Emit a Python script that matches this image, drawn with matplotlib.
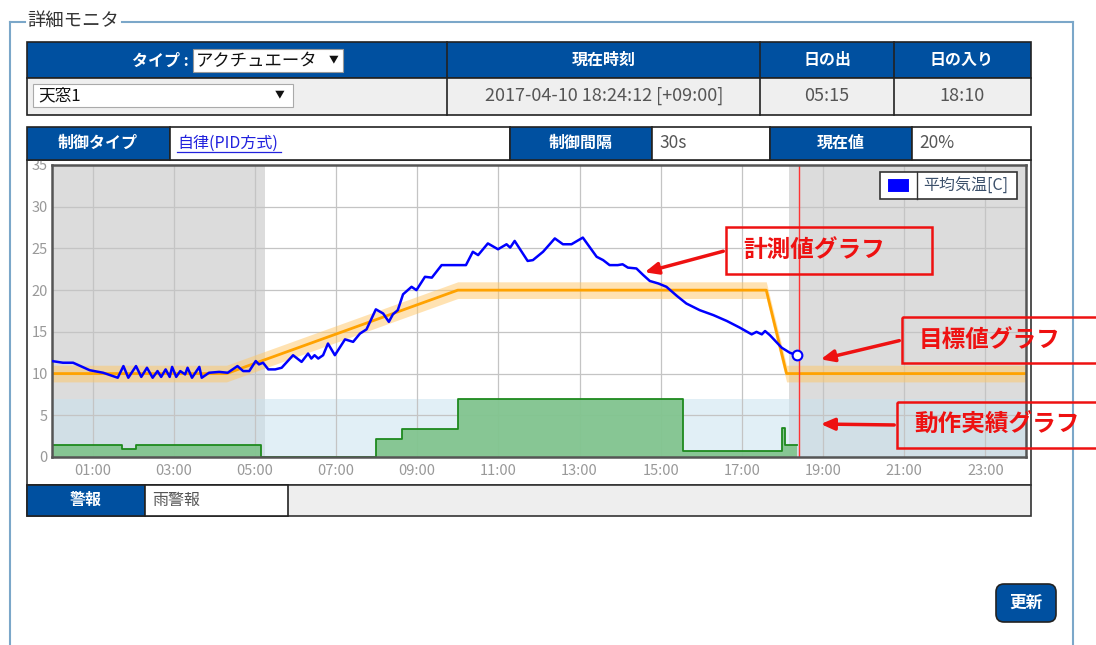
import numpy as np
import matplotlib.pyplot as plt
from matplotlib.patches import Rectangle, FancyBboxPatch

plt.rcParams['font.family'] = ['Noto Sans CJK JP', 'DejaVu Sans']

# measured temperature (hour of day, deg C)
temp_t = [0, 0.27, 0.52, 0.93, 1.26, 1.62, 1.76, 1.88, 2.07, 2.2, 2.34, 2.48, 2.6,
          2.69, 2.8, 2.9, 2.96, 3.06, 3.16, 3.28, 3.34, 3.45, 3.63, 3.69, 3.87,
          4.12, 4.33, 4.57, 4.71, 4.86, 5.02, 5.1, 5.2, 5.33, 5.5, 5.66, 5.94,
          6.15, 6.31, 6.39, 6.47, 6.56, 6.68, 6.8, 6.97, 7.22, 7.42, 7.59, 7.75,
          7.98, 8.16, 8.3, 8.4, 8.52, 8.65, 8.86, 8.98, 9.19, 9.36, 9.6, 9.8,
          10.2, 10.37, 10.5, 10.74, 10.99, 11.2, 11.29, 11.4, 11.72, 11.85, 12.1,
          12.39, 12.59, 12.8, 13.08, 13.42, 13.58, 13.74, 13.94, 14.06, 14.19,
          14.4, 14.57, 14.73, 14.94, 15.14, 15.4, 15.63, 15.96, 16.3, 16.63,
          16.95, 17.24, 17.36, 17.49, 17.57, 17.69, 17.98, 18.18, 18.35]
temp_v = [11.5, 11.3, 11.3, 10.4, 10.1, 9.5, 10.9, 9.5, 10.9, 9.6, 10.7, 9.5, 10.3,
          9.6, 10.5, 9.6, 10.8, 9.6, 10.3, 9.9, 10.7, 9.5, 10.8, 9.5, 10.1,
          10.2, 10.1, 10.9, 10.3, 10.3, 11.5, 11.1, 11.3, 10.5, 10.5, 10.7, 12.2,
          11.4, 12.4, 11.8, 12.2, 11.8, 12.2, 13.6, 12.2, 14.1, 13.8, 14.8, 15.3,
          17.7, 17.2, 16.2, 17.1, 17.6, 19.5, 20.4, 20.0, 21.6, 21.5, 23.0, 23.0,
          23.0, 24.6, 24.2, 25.6, 24.9, 25.5, 25.1, 25.9, 23.5, 23.6, 24.6,
          26.2, 25.5, 25.5, 26.3, 24.0, 23.6, 23.0, 23.0, 23.1, 22.7,
          22.6, 21.8, 21.1, 20.8, 20.4, 19.3, 18.4, 17.6, 17.0, 16.3,
          15.5, 14.7, 15.0, 14.7, 15.1, 14.6, 13.1, 12.5, 12.2]

# target value
target_t = [0, 4.3, 10.0, 17.6, 18.1, 24]
target_v = [10, 10, 20, 20, 10, 10]

# actuator record (steps)
act_t = [0, 1.72, 2.07, 5.15, 7.98, 8.63, 10.0, 15.54, 17.98, 18.06, 18.35]
act_v = [1.4, 1.0, 1.4, 0.0, 2.2, 3.4, 7.0, 0.7, 3.5, 1.4, 1.4]

sunrise, sunset, now = 5.25, 18.17, 18.4
xticks = [1, 3, 5, 7, 9, 11, 13, 15, 17, 19, 21, 23]
xlabels = ["%02d:00" % h for h in xticks]

BLUE = '#0050a0'
W, H = 1096, 645
fig = plt.figure(figsize=(W / 100, H / 100), dpi=100)

bg = fig.add_axes([0, 0, 1, 1], zorder=0)
bg.set_xlim(0, W); bg.set_ylim(H, 0); bg.axis('off')
fg = fig.add_axes([0, 0, 1, 1], zorder=3)
fg.set_xlim(0, W); fg.set_ylim(H, 0); fg.axis('off')
fg.patch.set_alpha(0)


def box(a, x0, y0, x1, y1, fc, ec='#333', lw=1.2, z=1):
    a.add_patch(Rectangle((x0, y0), x1 - x0, y1 - y0, fc=fc, ec=ec, lw=lw, zorder=z))


# fieldset
fs = '#7ba7c9'
bg.plot([10, 25], [22, 22], color=fs, lw=1.5)
bg.plot([122, 1073], [22, 22], color=fs, lw=1.5)
bg.plot([10, 10], [22, H], color=fs, lw=1.5)
bg.plot([1073, 1073], [22, H], color=fs, lw=1.5)
bg.text(27, 21, '詳細モニタ', fontsize=13.2, color='#333', va='center')

# top table
box(bg, 27, 42, 1031, 78, BLUE, ec='#222')
box(bg, 27, 78, 1031, 115, '#efefef', ec='#222')
for x in [447, 760, 894]:
    bg.plot([x, x], [42, 115], color='#222', lw=1.2, zorder=2)
hdr = dict(color='white', fontsize=11.5, fontweight='bold', ha='center', va='center', zorder=3)
bg.text(189, 61, 'タイプ :', **{**hdr, 'ha': 'right'})
box(bg, 193, 49, 343, 72, 'white', ec='#999', lw=0.8, z=2)
bg.text(196, 61, 'アクチュエータ', fontsize=12.5, color='#111', va='center', zorder=3)
bg.text(334, 59, '▼', fontsize=7, color='#111', ha='center', va='center', zorder=3)
bg.text(604, 60, '現在時刻', **hdr)
bg.text(827, 60, '日の出', **hdr)
bg.text(962, 60, '日の入り', **hdr)
box(bg, 33, 84, 293, 107, 'white', ec='#aaa', lw=0.8, z=2)
bg.text(38, 96, '天窓1', fontsize=12, color='#111', va='center', zorder=3)
bg.text(280, 94, '▼', fontsize=7, color='#111', ha='center', va='center', zorder=3)
cell = dict(color='#555', fontsize=13, ha='center', va='center', zorder=3)
bg.text(604, 96, '2017-04-10 18:24:12 [+09:00]', **cell)
bg.text(827, 96, '05:15', **cell)
bg.text(962, 96, '18:10', **cell)

# chart panel and alarm row
box(bg, 27, 160, 1031, 485, 'white', ec='#333')
box(bg, 27, 485, 1031, 516, '#eeeeee', ec='#333')
box(bg, 27, 485, 145, 516, BLUE, ec='#222', z=2)
box(bg, 145, 485, 288, 516, 'white', ec='#222', z=2)
bg.text(86, 500, '警報', **hdr)
bg.text(152, 500, '雨警報', color='#555', fontsize=11.5, va='center', zorder=3)

# control row (drawn on top so it clips the 35 label)
cells = [(27, 170, BLUE), (170, 510, 'white'), (510, 652, BLUE),
         (652, 770, 'white'), (770, 912, BLUE), (912, 1031, 'white')]
for x0, x1, c in cells:
    box(fg, x0, 127, x1, 160, c, ec='#222')
fg.text(98, 143, '制御タイプ', **hdr)
fg.text(177, 143, '自律(PID方式)', color='#2222dd', fontsize=11.5, va='center', zorder=3)
fg.plot([177, 281], [152, 152], color='#2222dd', lw=0.9, zorder=3)
fg.text(581, 143, '制御間隔', **hdr)
fg.text(659, 143, '30s', color='#555', fontsize=12.5, va='center', zorder=3)
fg.text(919, 143, '20%', color='#555', fontsize=12.5, va='center', zorder=3)
fg.text(841, 143, '現在値', **hdr)

# button
fg.add_patch(FancyBboxPatch((996, 584), 60, 38, boxstyle='round,pad=0,rounding_size=8',
                            fc=BLUE, ec='#222', lw=1.2))
fg.text(1026, 603, '更新', color='white', fontsize=12, fontweight='bold',
        ha='center', va='center')

# chart
ax = fig.add_axes([52 / W, (H - 457) / H, 974 / W, 292 / H], zorder=1)
ax.set_xlim(0, 24)
ax.set_ylim(0, 35)
ax.axvspan(0, sunrise, color='#d6d6d6', alpha=0.85, lw=0, zorder=0)
ax.axvspan(sunset, 24, color='#d6d6d6', alpha=0.85, lw=0, zorder=0)
ax.axhspan(0, 7, color='#c9e2f0', alpha=0.55, lw=0, zorder=0.5)
for x in xticks:
    ax.axvline(x, color='#c4c4c4', lw=0.9, zorder=0.6)
for y in range(5, 35, 5):
    ax.axhline(y, color='#c4c4c4', lw=0.9, zorder=0.6)

ax.fill_between(act_t, act_v, step='post', color='#82c48f', alpha=0.95, lw=0, zorder=1)
ax.step(act_t, act_v, where='post', color='#1e8a1e', lw=1.3, zorder=1.2)

tv = np.array(target_v, float)
ax.fill_between(target_t, tv - 1, tv + 1, color='#ffc766', alpha=0.5, lw=0, zorder=2)
ax.plot(target_t, target_v, color='#ffa200', lw=2, zorder=2.2)

ax.axvline(now, color='#ff3333', lw=1, zorder=2.5)
ax.plot(temp_t, temp_v, color='#0000ff', lw=1.8, zorder=3)
ax.plot(temp_t[-1], temp_v[-1], 'o', ms=7, mfc='white', mec='#0000ff', mew=1.5, zorder=4)

ax.set_xticks(xticks)
ax.set_xticklabels(xlabels)
ax.set_yticks(range(0, 36, 5))
ax.tick_params(length=0, labelsize=10.5, colors='#999', pad=5)
ax.tick_params(axis='y', pad=3)
for s in ax.spines.values():
    s.set_color('#555')
    s.set_linewidth(1.8)

# legend
box(fg, 880, 172, 1017, 199, 'white', ec='#333')
box(fg, 887, 178, 910, 193, '#0000ff', ec='white', lw=1.5, z=2)
fg.plot([917, 917], [172, 199], color='#333', lw=1, zorder=2)
fg.text(923, 185, '平均気温[C]', color='#3a4f6a', fontsize=11.5, va='center', zorder=3)

# annotations
red = '#ee1111'
notes = [((726, 227, 932, 274), '計測値グラフ', (642, 273)),
         ((902, 317, 1110, 363), '目標値グラフ', (818, 360)),
         ((897, 402, 1110, 448), '動作実績グラフ', (818, 424))]
for (x0, y0, x1, y1), label, tip in notes:
    fg.add_patch(Rectangle((x0, y0), x1 - x0, y1 - y0, fc='none', ec=red, lw=1.8, zorder=5))
    fg.text(x0 + 17, (y0 + y1) / 2, label, color=red, fontsize=17, fontweight='bold',
            ha='left', va='center', zorder=5)
    fg.annotate('', xy=tip, xytext=(x0, (y0 + y1) / 2),
                arrowprops=dict(arrowstyle='-|>,head_length=0.8,head_width=0.35',
                                color=red, lw=2.5), zorder=5)

fig.savefig('out.png', dpi=100)
